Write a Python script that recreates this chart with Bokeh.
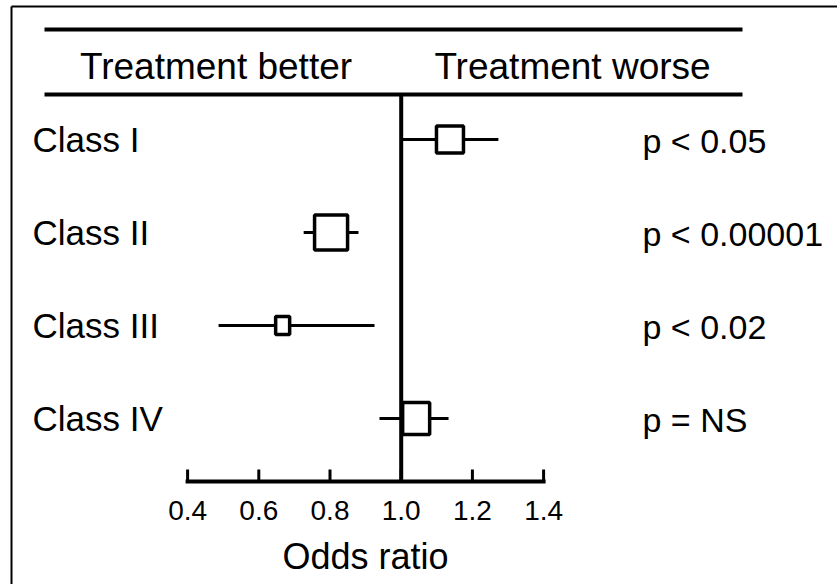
from bokeh.plotting import figure
from bokeh.models import Range1d, ColumnDataSource
from bokeh.core.properties import value
from bokeh.embed import file_html
from bokeh.resources import INLINE

# ---- data ----
classes = ["Class I", "Class II", "Class III", "Class IV"]
odds = [1.137, 0.803, 0.667, 1.042]
ci_low = [1.0, 0.726, 0.487, 0.939]
ci_high = [1.273, 0.880, 0.925, 1.133]
pvals = ["p < 0.05", "p < 0.00001", "p < 0.02", "p = NS"]
ticks = [0.4, 0.6, 0.8, 1.0, 1.2, 1.4]
tick_labels = ["0.4", "0.6", "0.8", "1.0", "1.2", "1.4"]
headers = ["Treatment better", "Treatment worse"]
x_title = "Odds ratio"
# marker box sizes (screen px)
box_w = [27, 33, 14, 27]
box_h = [27, 35, 18, 32]

FONT = "Liberation Sans"
W, H = 837, 584
PX_PER_UNIT = 356.0
X_ONE = 400.7          # pixel of OR = 1.0
ROW0, ROW_STEP = 139.0, 93.0
AXIS_PX = 481

def xd(px):
    return 1.0 + (px - X_ONE) / PX_PER_UNIT

def yd(py):
    return (py - ROW0) / ROW_STEP

rows = list(range(len(classes)))

p = figure(width=W, height=H, output_backend="svg", toolbar_location=None,
           x_range=Range1d(xd(0), xd(W)),
           y_range=Range1d(yd(H), yd(0)),
           min_border=0, x_axis_type=None, y_axis_type=None)
p.outline_line_color = None
p.xgrid.visible = False
p.ygrid.visible = False
p.background_fill_color = "white"
p.border_fill_color = "white"

# outer border (left and top)
p.segment(x0=[xd(11), xd(11)], y0=[yd(6), yd(6)], x1=[xd(11), xd(W + 5)],
          y1=[yd(H + 10), yd(6)], line_color="black", line_width=2)

# header rules and headings
p.segment(x0=[xd(44), xd(44)], y0=[yd(29), yd(94)], x1=[xd(742), xd(742)],
          y1=[yd(29), yd(94)], line_color="black", line_width=4)
p.text(x=[xd(215.5), xd(572)], y=[yd(66), yd(66)], text=headers,
       text_font=value(FONT), text_font_size="37px", text_align="center",
       text_baseline="middle", text_color="black")

# reference line at OR = 1
p.segment(x0=[1.0], y0=[yd(94)], x1=[1.0], y1=[yd(AXIS_PX)],
          line_color="black", line_width=4)

src = ColumnDataSource(dict(cls=classes, odds=odds, lo=ci_low, hi=ci_high,
                            row=rows, pv=pvals, bw=box_w, bh=box_h))

p.segment(x0="lo", y0="row", x1="hi", y1="row", source=src,
          line_color="black", line_width=3)
p.rect(x="odds", y="row", width="bw", height="bh", width_units="screen",
       height_units="screen", source=src, fill_color="white",
       line_color="black", line_width=3.5)

p.text(x=xd(32), y="row", text="cls", source=src, text_font=value(FONT),
       text_font_size="35px", text_align="left", text_baseline="middle",
       text_color="black")
p.text(x=xd(642), y="row", text="pv", source=src, text_font=value(FONT),
       text_font_size="34px", text_align="left", text_baseline="middle",
       y_offset=1, text_color="black")

# odds-ratio axis
ay = yd(AXIS_PX)
p.segment(x0=[ticks[0]], y0=[ay], x1=[ticks[-1]], y1=[ay],
          line_color="black", line_width=4, line_cap="square")
p.segment(x0=ticks, y0=[yd(AXIS_PX - 12)] * len(ticks), x1=ticks,
          y1=[ay] * len(ticks), line_color="black", line_width=3)
p.text(x=ticks, y=[yd(510)] * len(ticks), text=tick_labels,
       text_font=value(FONT), text_font_size="28px", text_align="center",
       text_baseline="middle", text_color="black")
p.text(x=[(ticks[0] + ticks[-1]) / 2], y=[yd(556)], text=[x_title],
       text_font=value(FONT), text_font_size="36px", text_align="center",
       text_baseline="middle", text_color="black")

open("out.html", "w").write(file_html(p, INLINE))
